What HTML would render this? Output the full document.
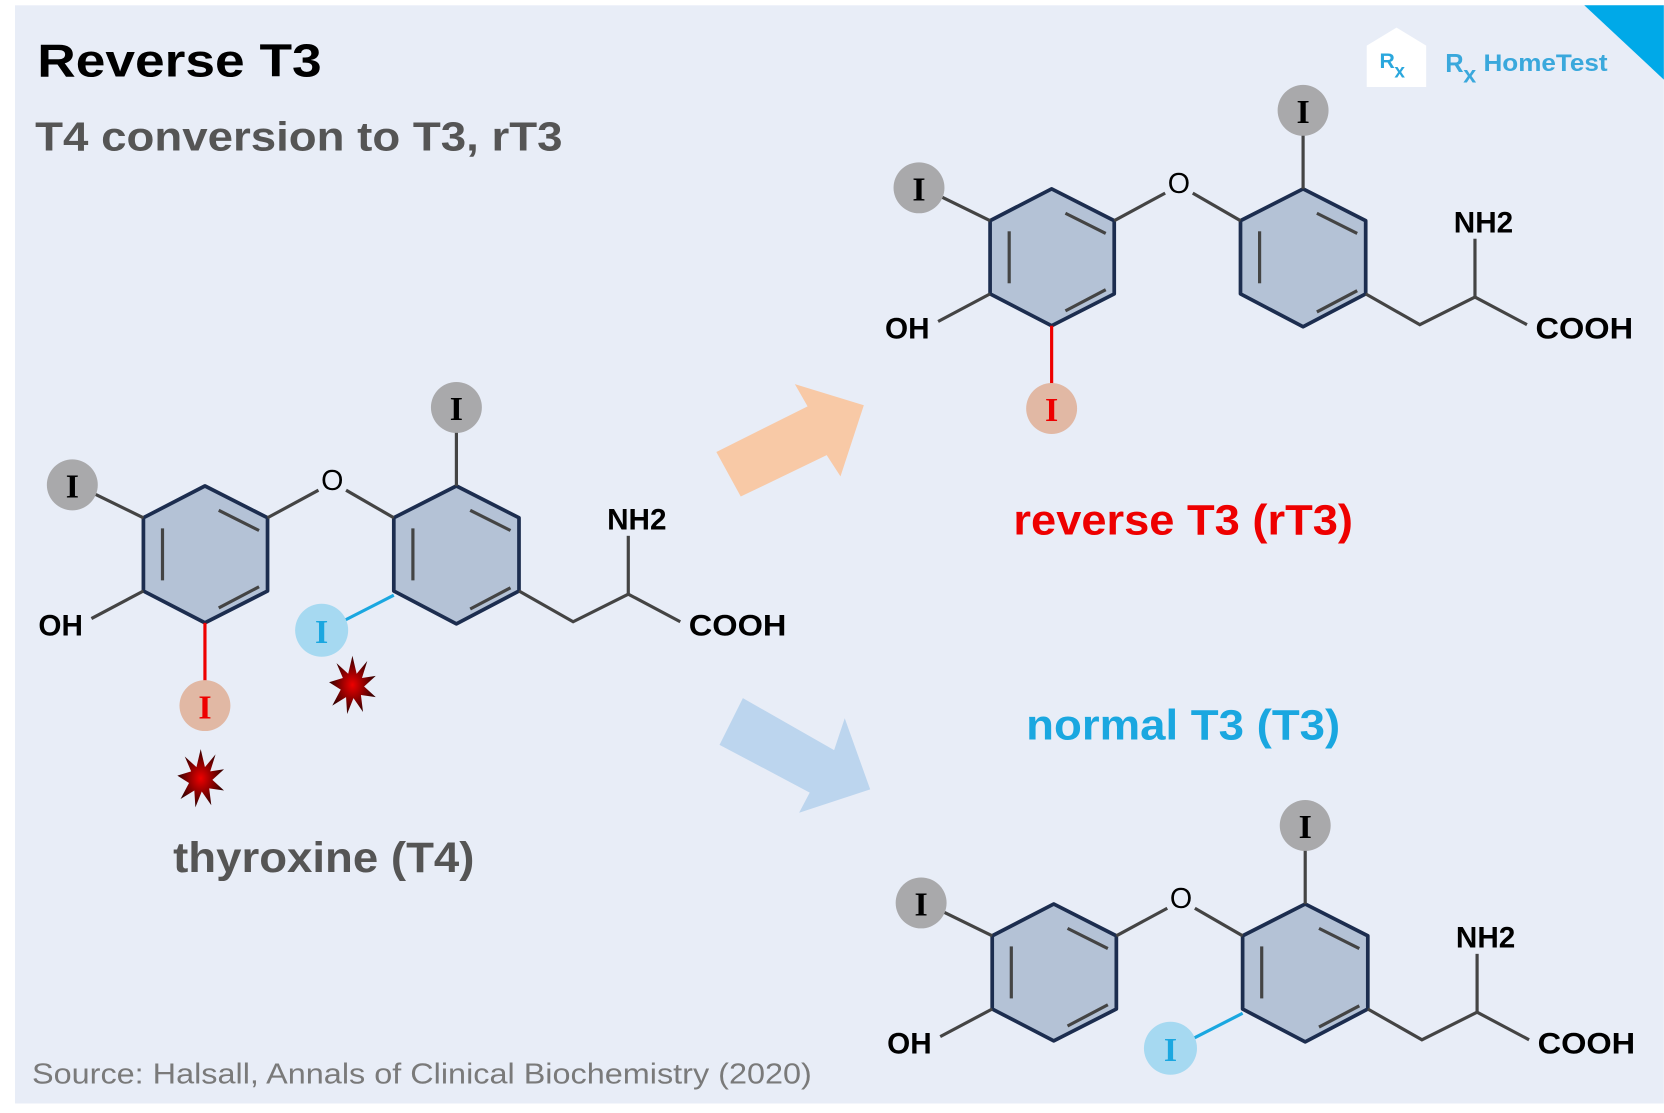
<!DOCTYPE html>
<html><head><meta charset="utf-8"><style>
html,body{margin:0;padding:0;background:#fff;}
svg{display:block;}
text{font-family:"Liberation Sans",sans-serif;}
</style></head><body>
<svg width="1664" height="1113" viewBox="0 0 1568 1049" xmlns="http://www.w3.org/2000/svg">
<defs>
<radialGradient id="star"><stop offset="0" stop-color="#e00"/><stop offset="1" stop-color="#300"/></radialGradient>
<g id="core">
  <polygon points="193,458 252,488 252,557 193,587 135,557 135,488" fill="#b4c2d6" stroke="#1c2d4f" stroke-width="3.5" stroke-linejoin="round"/>
  <polygon points="430,458 489,488 489,557 430,588 371,557 371,488" fill="#b4c2d6" stroke="#1c2d4f" stroke-width="3.5" stroke-linejoin="round"/>
  <g stroke="#444" stroke-width="3">
    <line x1="153" y1="498" x2="153" y2="547"/>
    <line x1="206" y1="481" x2="244" y2="500"/>
    <line x1="206" y1="573" x2="244" y2="553"/>
    <line x1="389" y1="498" x2="389" y2="547"/>
    <line x1="443" y1="481" x2="481" y2="500"/>
    <line x1="443" y1="574" x2="481" y2="554"/>
    <line x1="252" y1="488" x2="300" y2="462"/>
    <line x1="326" y1="462" x2="371" y2="488"/>
    <line x1="430" y1="458" x2="430" y2="407"/>
    <line x1="135" y1="488" x2="90" y2="466"/>
    <line x1="135" y1="557" x2="86" y2="583"/>
    <polyline points="489,557 540,586 592,560 641,586" fill="none"/>
    <line x1="592" y1="560" x2="592" y2="505"/>
  </g>
  <text x="313" y="462" font-size="27" text-anchor="middle">O</text>
  <text x="57" y="599" font-size="28" font-weight="bold" text-anchor="middle">OH</text>
  <text x="600" y="499" font-size="28" font-weight="bold" text-anchor="middle">NH2</text>
  <text x="695" y="599" font-size="28" font-weight="bold" text-anchor="middle" textLength="92" lengthAdjust="spacingAndGlyphs">COOH</text>
  <circle cx="430" cy="384" r="24" fill="#a9a9ab"/>
  <text x="430" y="396" font-size="32" font-weight="bold" text-anchor="middle" fill="#000" style="font-family:'Liberation Serif',serif">I</text>
  <circle cx="68" cy="457" r="24" fill="#a9a9ab"/>
  <text x="68" y="469" font-size="32" font-weight="bold" text-anchor="middle" style="font-family:'Liberation Serif',serif">I</text>
</g>
<g id="red">
  <line x1="193" y1="587" x2="193" y2="643" stroke="#e00" stroke-width="3"/>
  <circle cx="193" cy="665" r="24" fill="#e1b8a4"/>
  <text x="193" y="677" font-size="32" font-weight="bold" text-anchor="middle" fill="#e00" style="font-family:'Liberation Serif',serif">I</text>
</g>
<g id="blue">
  <line x1="371" y1="561" x2="322" y2="586" stroke="#1aa7e0" stroke-width="3"/>
  <circle cx="303" cy="594" r="25" fill="#a6d9f1"/>
  <text x="303" y="606" font-size="32" font-weight="bold" text-anchor="middle" fill="#1aa7e0" style="font-family:'Liberation Serif',serif">I</text>
</g>
<polygon id="st" points="0,-27 4,-10 14,-22 9,-6 22,-8 11,2 22,12 8,10 10,26 1,13 -5,28 -6,12 -19,20 -11,5 -22,-2 -9,-6 -15,-20 -4,-10" fill="url(#star)"/>
</defs>
<rect x="14" y="5" width="1554" height="1035" fill="#e8edf7"/>
<polygon points="1493,5 1568,5 1568,75" fill="#00a9e8"/>
<polygon points="1288,43 1316,26 1344,43 1344,82 1288,82" fill="#fff"/>
<text x="1300" y="64" font-size="20" font-weight="bold" fill="#2aa7dd">R</text><text x="1314" y="73" font-size="18" font-weight="bold" fill="#2aa7dd">x</text>
<text x="1362" y="68" font-size="24" font-weight="bold" fill="#3aa8dc">R</text><text x="1379" y="78" font-size="22" font-weight="bold" fill="#3aa8dc">x</text>
<text x="1398" y="67" font-size="23" font-weight="bold" fill="#3aa8dc" textLength="117" lengthAdjust="spacingAndGlyphs">HomeTest</text>
<text x="35" y="72" font-size="44" font-weight="bold" fill="#000" textLength="268" lengthAdjust="spacingAndGlyphs">Reverse T3</text>
<text x="33" y="142" font-size="38" font-weight="bold" fill="#555" textLength="497" lengthAdjust="spacingAndGlyphs">T4 conversion to T3, rT3</text>

<use href="#core"/><use href="#red"/><use href="#blue"/>
<use href="#st" transform="translate(332,645)"/>
<use href="#st" transform="translate(189,733)"/>
<text x="163" y="822" font-size="40" font-weight="bold" fill="#555" textLength="284" lengthAdjust="spacingAndGlyphs">thyroxine (T4)</text>

<g transform="translate(798,-280)"><use href="#core"/><use href="#red"/></g>
<text x="955" y="504" font-size="40" font-weight="bold" fill="#e00" textLength="320" lengthAdjust="spacingAndGlyphs">reverse T3 (rT3)</text>

<text x="967" y="697" font-size="40" font-weight="bold" fill="#1aa7e0" textLength="296" lengthAdjust="spacingAndGlyphs">normal T3 (T3)</text>
<g transform="translate(800,394)"><use href="#core"/><use href="#blue"/></g>

<polygon points="675,426 761,383 749,362 814,382 792,449 779,429 698,468" fill="#f8c9a6"/>
<polygon points="700,658 786,707 796,677 820,744 753,766 763,747 678,702" fill="#bcd5ee"/>

<text x="30" y="1021" font-size="27" fill="#7a7a7a" textLength="735" lengthAdjust="spacingAndGlyphs">Source: Halsall, Annals of Clinical Biochemistry (2020)</text>
</svg>
</body></html>
